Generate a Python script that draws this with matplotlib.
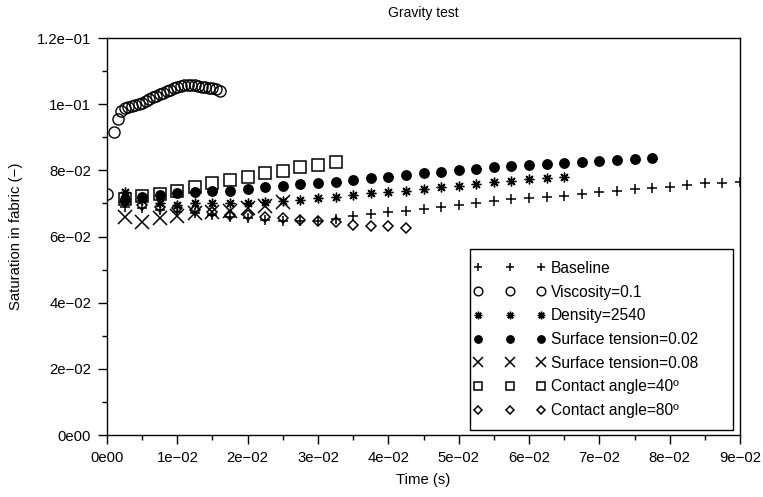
#!/usr/bin/env python3

import matplotlib
matplotlib.use("Agg")
import matplotlib.pyplot as plt
from matplotlib.legend_handler import HandlerLine2D

plt.rcParams['font.family'] = ['Liberation Sans', 'DejaVu Sans']

# time grid used by most runs (s)
t_base = [0.0025 * k for k in range(1, 37)]

baseline = [0.0690, 0.0685, 0.0680, 0.0675, 0.0670, 0.0665, 0.0660, 0.0655, 0.0650,
            0.0648, 0.0646, 0.0646, 0.0652, 0.0662, 0.0668, 0.0675, 0.0678, 0.0683,
            0.0690, 0.0695, 0.0700, 0.0707, 0.0712, 0.0715, 0.0718, 0.0723, 0.0730,
            0.0735, 0.0738, 0.0743, 0.0746, 0.0750, 0.0756, 0.0761, 0.0763, 0.0766]

t_visc = [0.0] + [0.001 + 0.0005 * i for i in range(31)]
viscosity = [0.0728,
             0.0917, 0.0955, 0.0980, 0.0987, 0.0992, 0.0994, 0.0997, 0.1000, 0.1004,
             0.1010, 0.1015, 0.1021, 0.1026, 0.1031, 0.1035, 0.1039, 0.1044, 0.1049,
             0.1053, 0.1056, 0.1058, 0.1059, 0.1058, 0.1057, 0.1055, 0.1053, 0.1051,
             0.1050, 0.1048, 0.1046, 0.1041]

density = [0.0735, 0.0710, 0.0700, 0.0695, 0.0700, 0.0700, 0.0700, 0.0700, 0.0703,
           0.0706, 0.0711, 0.0715, 0.0719, 0.0725, 0.0732, 0.0735, 0.0738, 0.0744,
           0.0749, 0.0754, 0.0759, 0.0764, 0.0769, 0.0773, 0.0776, 0.0781]

st_002 = [0.0712, 0.0720, 0.0726, 0.0731, 0.0735, 0.0737, 0.0739, 0.0744, 0.0749,
          0.0753, 0.0759, 0.0762, 0.0766, 0.0771, 0.0776, 0.0781, 0.0786, 0.0791,
          0.0796, 0.0801, 0.0805, 0.0809, 0.0813, 0.0817, 0.0820, 0.0823, 0.0826,
          0.0829, 0.0831, 0.0834, 0.0838]

st_008 = [0.0660, 0.0645, 0.0655, 0.0662, 0.0672, 0.0675, 0.0678, 0.0685, 0.0692, 0.0705]

ca_40 = [0.0712, 0.0722, 0.0728, 0.0738, 0.0750, 0.0763, 0.0771, 0.0781, 0.0791,
         0.0798, 0.0810, 0.0816, 0.0824]

ca_80 = [0.0705, 0.0695, 0.0690, 0.0685, 0.0680, 0.0673, 0.0666, 0.0665, 0.0658,
         0.0655, 0.0650, 0.0648, 0.0645, 0.0635, 0.0633, 0.0632, 0.0627]

xticks = [0.01 * i for i in range(10)]
xlabels = ["0e00", "1e\u221202", "2e\u221202", "3e\u221202", "4e\u221202",
           "5e\u221202", "6e\u221202", "7e\u221202", "8e\u221202", "9e\u221202"]
yticks = [0.0, 0.02, 0.04, 0.06, 0.08, 0.10, 0.12]
ylabels = ["0e00", "2e\u221202", "4e\u221202", "6e\u221202", "8e\u221202",
           "1e\u221201", "1.2e\u221201"]

fig = plt.figure(figsize=(7.63, 4.97), dpi=100)
ax = fig.add_axes([0.1402, 0.1247, 0.8297, 0.7988])

k = dict(linestyle='none', color='black')
ax.plot(t_base[:len(baseline)], baseline, marker='+', ms=7.5, mew=1.1, label="Baseline", **k)
ax.plot(t_visc, viscosity, marker='o', ms=8, mew=1.0, mfc='none', label="Viscosity=0.1", **k)
ax.plot(t_base[:len(density)], density, marker=(8, 2, 0), ms=7, mew=1.0,
        label="Density=2540", **k)
ax.plot(t_base[:len(st_002)], st_002, marker='o', ms=6.8, label="Surface tension=0.02", **k)
ax.plot(t_base[:len(st_008)], st_008, marker='x', ms=9.5, mew=1.1,
        label="Surface tension=0.08", **k)
ax.plot(t_base[:len(ca_40)], ca_40, marker='s', ms=8, mew=1.1, mfc='none',
        label="Contact angle=40\u00ba", **k)
ax.plot(t_base[:len(ca_80)], ca_80, marker='D', ms=5.5, mew=1.1, mfc='none',
        label="Contact angle=80\u00ba", **k)

ax.set_xlim(0, 0.09)
ax.set_ylim(0, 0.12)
ax.set_xticks(xticks)
ax.set_xticklabels(xlabels)
ax.set_yticks(yticks)
ax.set_yticklabels(ylabels)
ax.set_xticks([0.005 + 0.01 * i for i in range(9)], minor=True)
ax.set_yticks([0.01 + 0.02 * i for i in range(6)], minor=True)
ax.tick_params(which='major', direction='out', length=6.5, width=1.0, labelsize=10.7, pad=5)
ax.tick_params(which='minor', direction='out', length=3.5, width=1.0)
for s in ax.spines.values():
    s.set_linewidth(1.0)

ax.set_xlabel("Time (s)", fontsize=10.7, labelpad=6)
ax.set_ylabel("Saturation in fabric (\u2212)", fontsize=10.7, labelpad=10)
ax.set_title("Gravity test", fontsize=10, pad=15)

leg = ax.legend(loc='lower left', bbox_to_anchor=(0.5735, 0.0126, 0.4155, 0.5),
                mode='expand', borderaxespad=0, numpoints=3, fontsize=11.2,
                markerscale=0.78, handlelength=3.56, handletextpad=0.89,
                labelspacing=0.56, borderpad=0.76, fancybox=False, framealpha=1,
                edgecolor='black',
                handler_map={plt.Line2D: HandlerLine2D(marker_pad=-0.245, numpoints=3)})
leg.get_frame().set_linewidth(1.0)

fig.savefig("out.png", dpi=100)
